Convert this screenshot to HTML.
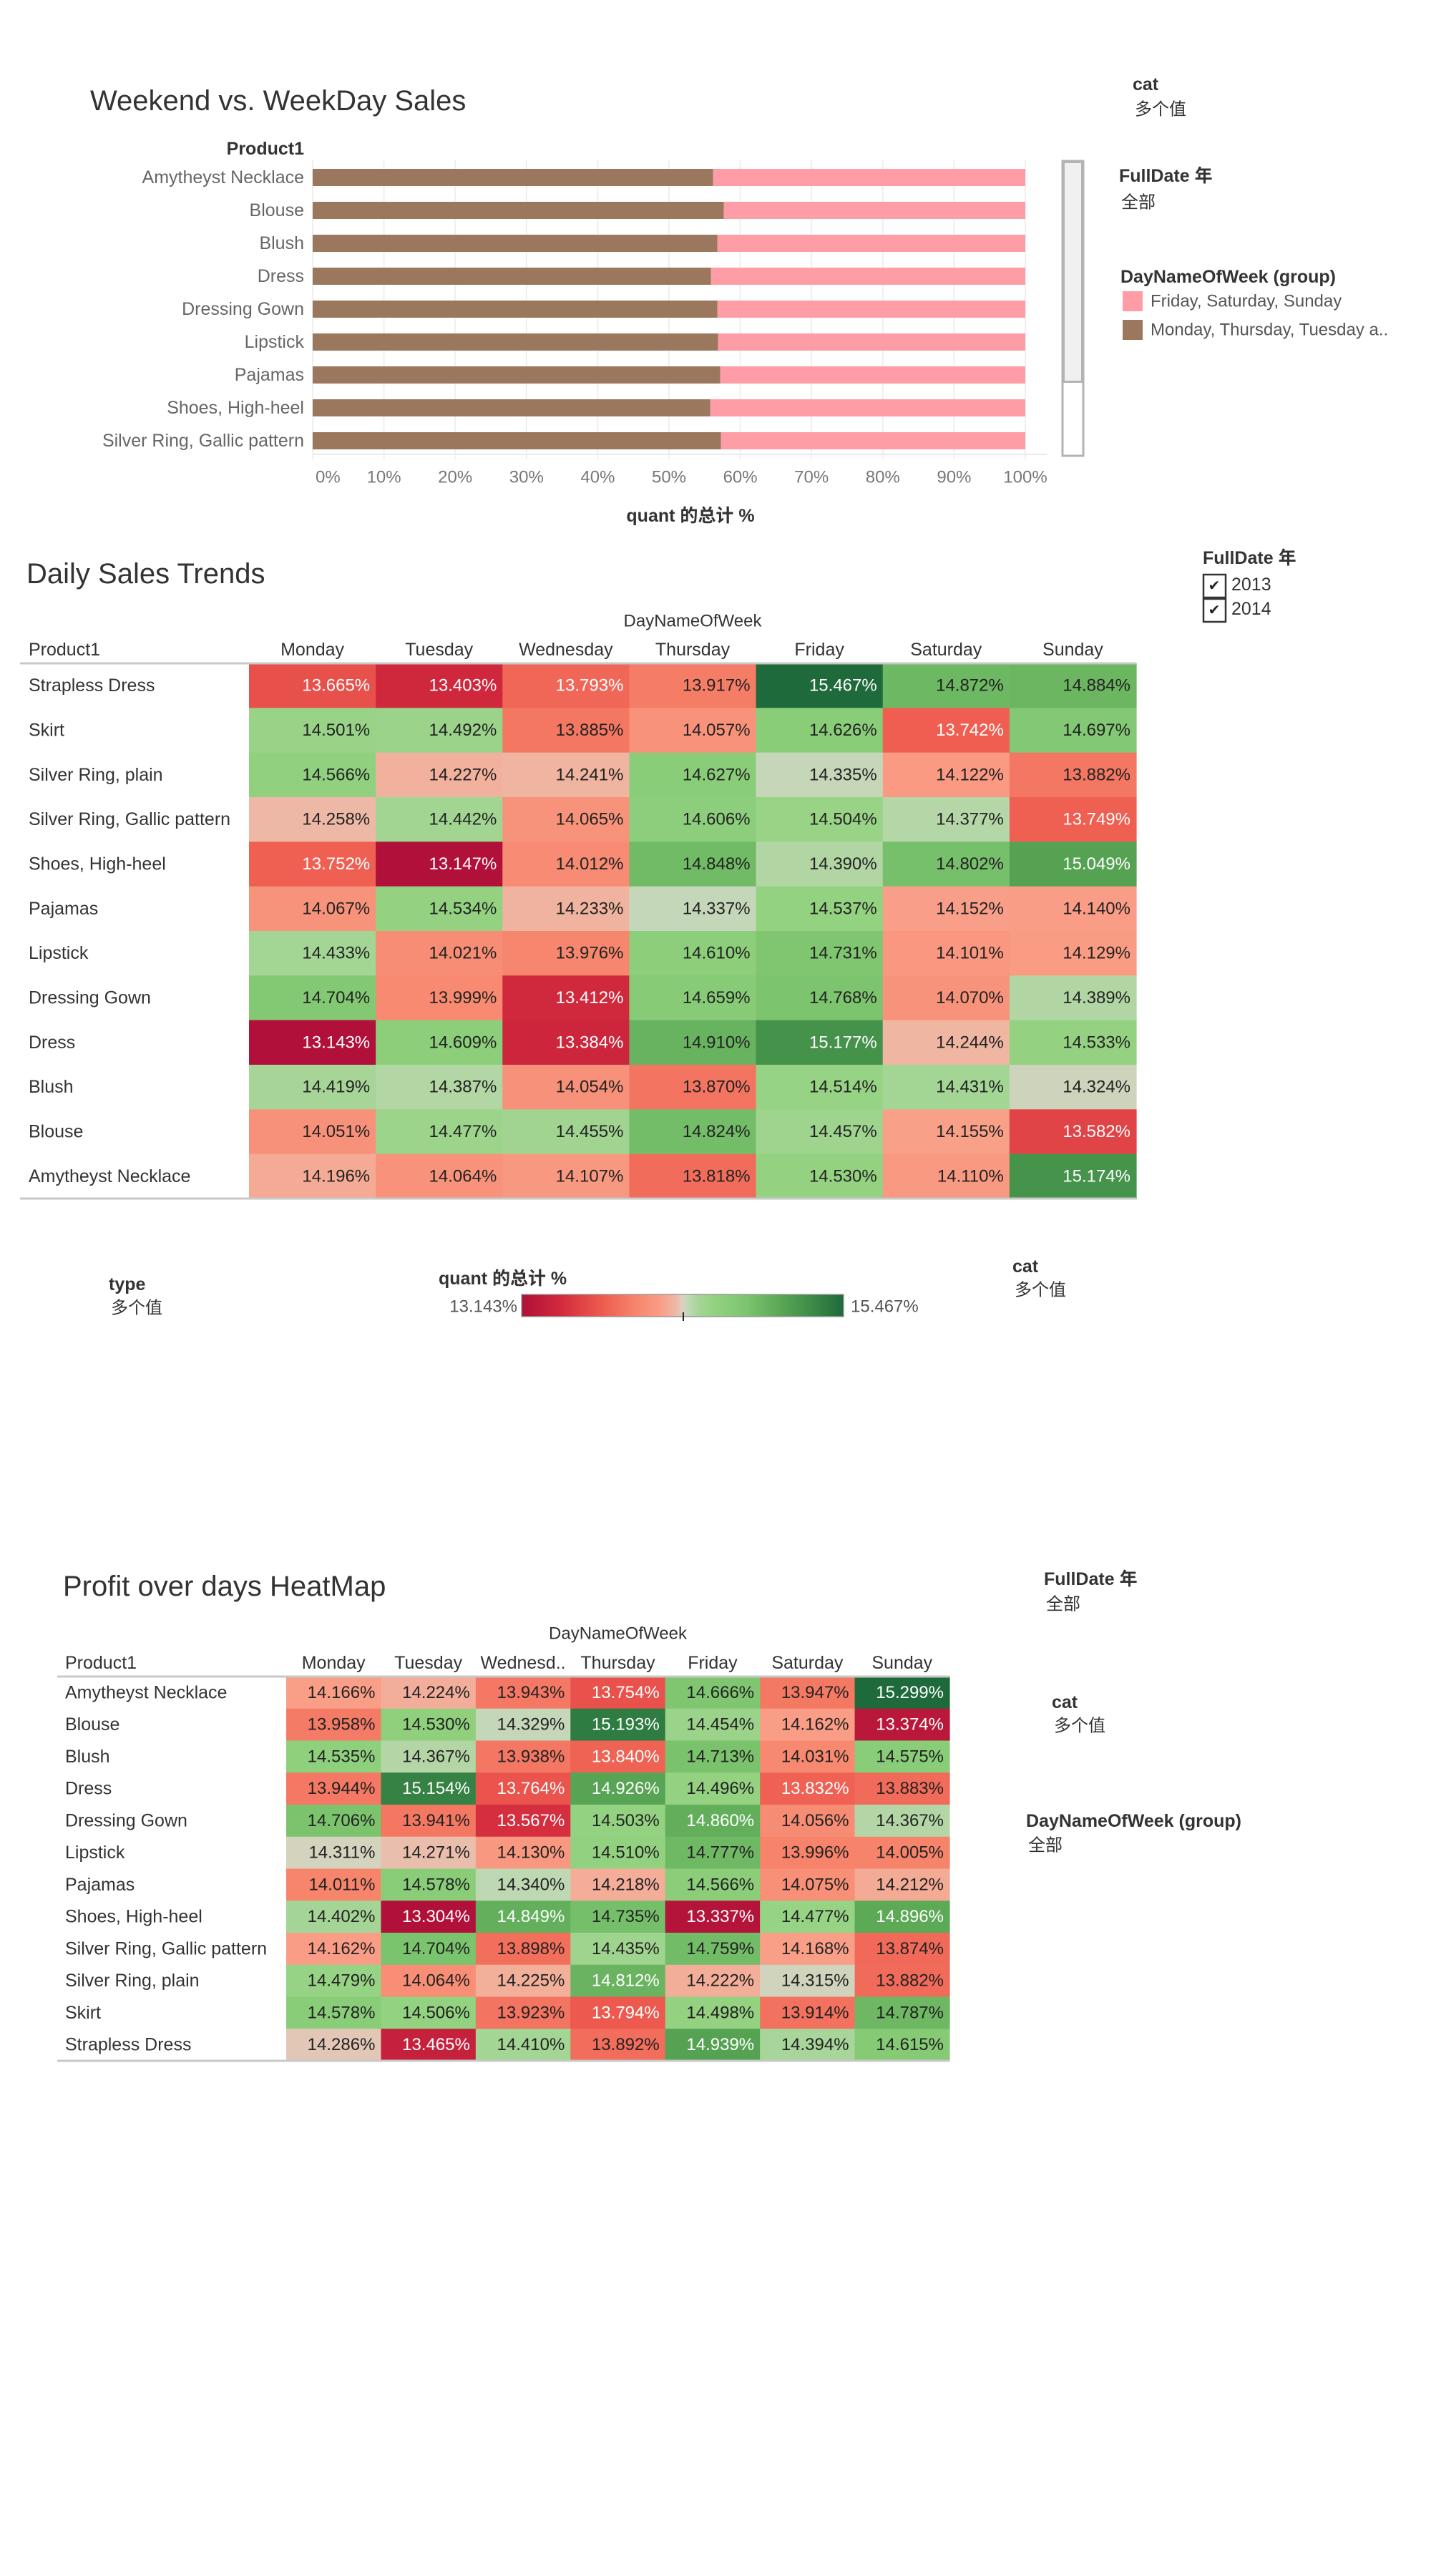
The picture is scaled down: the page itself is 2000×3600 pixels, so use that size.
<!DOCTYPE html>
<html><head><meta charset="utf-8"><title>Sales Dashboard</title>
<style>
html,body{margin:0;padding:0;background:#fff;}
svg{display:block;font-family:"Liberation Sans","Noto Sans CJK SC",sans-serif;}
</style></head>
<body>
<svg id="dash" xmlns="http://www.w3.org/2000/svg" width="2000" height="3600" viewBox="0 0 2000 3600">
<defs>
<linearGradient id="divgrad" x1="0" x2="1" y1="0" y2="0"></linearGradient>
</defs>
</svg>
<script>
// ---------- Data: Weekend vs WeekDay ----------
const barProducts = ["Amytheyst Necklace","Blouse","Blush","Dress","Dressing Gown","Lipstick","Pajamas","Shoes, High-heel","Silver Ring, Gallic pattern"];
const weekdayShare = [56.2,57.7,56.8,55.9,56.8,56.9,57.2,55.8,57.3];
const axisTicks = [0,10,20,30,40,50,60,70,80,90,100];

// ---------- Data: Daily Sales Trends ----------
const days = ["Monday","Tuesday","Wednesday","Thursday","Friday","Saturday","Sunday"];
const salesProducts = ["Strapless Dress","Skirt","Silver Ring, plain","Silver Ring, Gallic pattern","Shoes, High-heel","Pajamas","Lipstick","Dressing Gown","Dress","Blush","Blouse","Amytheyst Necklace"];
const salesValues = [
 [13.665,13.403,13.793,13.917,15.467,14.872,14.884],
 [14.501,14.492,13.885,14.057,14.626,13.742,14.697],
 [14.566,14.227,14.241,14.627,14.335,14.122,13.882],
 [14.258,14.442,14.065,14.606,14.504,14.377,13.749],
 [13.752,13.147,14.012,14.848,14.390,14.802,15.049],
 [14.067,14.534,14.233,14.337,14.537,14.152,14.140],
 [14.433,14.021,13.976,14.610,14.731,14.101,14.129],
 [14.704,13.999,13.412,14.659,14.768,14.070,14.389],
 [13.143,14.609,13.384,14.910,15.177,14.244,14.533],
 [14.419,14.387,14.054,13.870,14.514,14.431,14.324],
 [14.051,14.477,14.455,14.824,14.457,14.155,13.582],
 [14.196,14.064,14.107,13.818,14.530,14.110,15.174]
];

// ---------- Data: Profit HeatMap ----------
const profitDays = ["Monday","Tuesday","Wednesd..","Thursday","Friday","Saturday","Sunday"];
const profitProducts = ["Amytheyst Necklace","Blouse","Blush","Dress","Dressing Gown","Lipstick","Pajamas","Shoes, High-heel","Silver Ring, Gallic pattern","Silver Ring, plain","Skirt","Strapless Dress"];
const profitValues = [
 [14.166,14.224,13.943,13.754,14.666,13.947,15.299],
 [13.958,14.530,14.329,15.193,14.454,14.162,13.374],
 [14.535,14.367,13.938,13.840,14.713,14.031,14.575],
 [13.944,15.154,13.764,14.926,14.496,13.832,13.883],
 [14.706,13.941,13.567,14.503,14.860,14.056,14.367],
 [14.311,14.271,14.130,14.510,14.777,13.996,14.005],
 [14.011,14.578,14.340,14.218,14.566,14.075,14.212],
 [14.402,13.304,14.849,14.735,13.337,14.477,14.896],
 [14.162,14.704,13.898,14.435,14.759,14.168,13.874],
 [14.479,14.064,14.225,14.812,14.222,14.315,13.882],
 [14.578,14.506,13.923,13.794,14.498,13.914,14.787],
 [14.286,13.465,14.410,13.892,14.939,14.394,14.615]
];

const NS = "http://www.w3.org/2000/svg";
const svg = document.getElementById("dash");
function mk(tag, attrs, parent){
  const e = document.createElementNS(NS, tag);
  for (const k in attrs) e.setAttribute(k, attrs[k]);
  (parent||svg).appendChild(e);
  return e;
}
function txt(x,y,s,size,fill,anchor,weight,parent){
  const t = mk("text",{x:x,y:y,"font-size":size,fill:fill||"#333","text-anchor":anchor||"start","dominant-baseline":"central","font-weight":weight||"normal"},parent);
  t.textContent = s;
  return t;
}

// colour scale (diverging)
const stops = [
 [0,"#b01039"],[0.12,"#d12a3d"],[0.25,"#ee5b4f"],[0.35,"#f6846b"],[0.43,"#fa9d86"],
 [0.48,"#edb9a6"],[0.5,"#dcd0c0"],[0.515,"#c3d8b8"],[0.55,"#a5d596"],[0.6,"#93d280"],
 [0.7,"#7cc46e"],[0.8,"#5ba856"],[0.9,"#3e8b48"],[1,"#1f6a3b"]
];
function hex2rgb(h){return [parseInt(h.substr(1,2),16),parseInt(h.substr(3,2),16),parseInt(h.substr(5,2),16)];}
function colorAt(t){
  t=Math.max(0,Math.min(1,t));
  for(let i=1;i<stops.length;i++){
    if(t<=stops[i][0]){
      const a=stops[i-1],b=stops[i];const f=(t-a[0])/(b[0]-a[0]);
      const ca=hex2rgb(a[1]),cb=hex2rgb(b[1]);
      return "rgb("+ca.map((v,j)=>Math.round(v+(cb[j]-v)*f)).join(",")+")";
    }
  }
  return stops[stops.length-1][1];
}
const grad = document.getElementById("divgrad");
stops.forEach(s=>{mk("stop",{offset:s[0],"stop-color":s[1]},grad);});

// ================= Section 1: bar chart =================
const bx0=437, bx1=1433, by0=236, bstep=46, bh=24;
function xScale(p){return bx0+(bx1-bx0)*p/100;}
const t1=txt(126,141,"Weekend vs. WeekDay Sales",40,"#333");


const ph=txt(425,208,"Product1",25,"#333","end","bold");


axisTicks.forEach((v,i)=>{
  const g=mk("line",{x1:xScale(v),x2:xScale(v),y1:224,y2:642,stroke:"#efefef","stroke-width":2});
  
  
  const tl=txt(i===0?xScale(v)+4:xScale(v),667,v+"%",24,"#777",i===0?"start":"middle");
  
  
});
const ax=mk("line",{x1:bx0,x2:bx1+30,y1:635,y2:635,stroke:"#eaeaea","stroke-width":2});


barProducts.forEach((p,i)=>{
  const y=by0+i*bstep;
  const lab=txt(425,y+bh/2,p,25,"#666","end");
  
  
  const b1=mk("rect",{x:xScale(0),y:y,width:xScale(weekdayShare[i])-xScale(0),height:bh,fill:"#9b775e"});
  
  
  const b2=mk("rect",{x:xScale(weekdayShare[i]),y:y,width:xScale(100)-xScale(weekdayShare[i]),height:bh,fill:"#ff9da7"});
  
  
});
const xt=txt(965,721,"quant 的总计 %",25,"#333","middle","bold");


const sb=mk("rect",{x:1485,y:225,width:29,height:412,fill:"#fff",stroke:"#b3b3b3","stroke-width":3});


const th=mk("rect",{x:1486.5,y:226.5,width:26,height:307,fill:"#f0f0f0",stroke:"#b3b3b3","stroke-width":3});


// right legends section 1
let e;
e=txt(1583,118,"cat",25,"#333","start","bold");


e=txt(1586,153,"多个值",24,"#333");


e=txt(1564,246,"FullDate 年",25,"#333","start","bold");


e=txt(1567,283,"全部",24,"#333");


e=txt(1566,387,"DayNameOfWeek (group)",25,"#333","start","bold");


e=mk("rect",{x:1569,y:407,width:28,height:28,fill:"#ff9da7"});


e=txt(1608,421,"Friday, Saturday, Sunday",24,"#555");


e=mk("rect",{x:1569,y:447,width:28,height:28,fill:"#9b775e"});


e=txt(1608,461,"Monday, Thursday, Tuesday a..",24,"#555");



// ================= heatmap builder =================
function heatmap(cfg){
  const vals=cfg.values, flat=vals.flat();
  const mn=Math.min(...flat), mx=Math.max(...flat);
  const n=cfg.rows.length;
  const cw=(cfg.x1-cfg.x0)/cfg.cols.length;
  const rh=(cfg.y1-cfg.y0)/n;
  let h=txt(cfg.titleX,cfg.titleY,cfg.title,40,"#333");
  
  
  h=txt((cfg.x0+cfg.x1)/2,cfg.groupY,"DayNameOfWeek",24,"#333","middle");
  
  
  h=txt(cfg.labelX,cfg.headY,"Product1",25,"#333");
  
  
  cfg.cols.forEach((d,j)=>{
    const c=txt(cfg.x0+cw*(j+0.5),cfg.headY,d,25,"#333","middle");
    
    
  });
  cfg.rows.forEach((p,i)=>{
    const y=cfg.y0+i*rh;
    const l=txt(cfg.labelX,y+rh/2,p,25,"#333");
    
    
    vals[i].forEach((v,j)=>{
      const t=(v-mn)/(mx-mn);
      const r=mk("rect",{x:cfg.x0+j*cw,y:y,width:cw+0.6,height:rh+0.6,fill:colorAt(t)});
      
      
      const white = t<0.285 || t>cfg.greenWhite;
      const tv=txt(cfg.x0+(j+1)*cw-8,y+rh/2,v.toFixed(3)+"%",24,white?"#fff":"#222","end");
      
      
    });
  });
  h=mk("line",{x1:cfg.lineX,x2:cfg.x1,y1:cfg.y0,y2:cfg.y0,stroke:"#c8c8c8","stroke-width":3});
  
  
  h=mk("line",{x1:cfg.lineX,x2:cfg.x1,y1:cfg.y1,y2:cfg.y1,stroke:"#c8c8c8","stroke-width":3});
  
  
  return {mn:mn,mx:mx};
}

// ================= Section 2 =================
const r2=heatmap({id:"daily-sales",title:"Daily Sales Trends",titleX:37,titleY:802,groupY:868,headY:908,
  labelX:40,lineX:28,x0:348,x1:1588,y0:927,y1:1675,cols:days,rows:salesProducts,values:salesValues,greenWhite:0.775});
e=txt(1681,780,"FullDate 年",25,"#333","start","bold");


[["2013",802],["2014",836]].forEach((yr,i)=>{
  const b=mk("rect",{x:1682,y:yr[1]+1,width:31,height:32,fill:"#fff",stroke:"#333","stroke-width":2.5});
  
  
  const c=txt(1697,yr[1]+17,"✔",20,"#222","middle");
  
  
  const l=txt(1721,yr[1]+15,yr[0],25,"#333");
  
  
});
e=txt(152,1795,"type",25,"#333","start","bold");


e=txt(155,1828,"多个值",24,"#333");


e=txt(613,1787,"quant 的总计 %",25,"#333","start","bold");


e=mk("rect",{x:729,y:1809,width:450,height:31,fill:"url(#divgrad)",stroke:"#999","stroke-width":1.5});


e=mk("line",{x1:955,x2:955,y1:1834,y2:1846,stroke:"#222","stroke-width":2});


e=txt(723,1826,r2.mn.toFixed(3)+"%",24,"#555","end");


e=txt(1189,1826,r2.mx.toFixed(3)+"%",24,"#555");


e=txt(1415,1770,"cat",25,"#333","start","bold");


e=txt(1418,1803,"多个值",24,"#333");



// ================= Section 3 =================
heatmap({id:"profit-heatmap",title:"Profit over days HeatMap",titleX:88,titleY:2217,groupY:2283,headY:2324,
  labelX:91,lineX:80,x0:400,x1:1327,y0:2343,y1:2880,cols:profitDays,rows:profitProducts,values:profitValues,greenWhite:0.75});
e=txt(1459,2207,"FullDate 年",25,"#333","start","bold");


e=txt(1462,2242,"全部",24,"#333");


e=txt(1470,2379,"cat",25,"#333","start","bold");


e=txt(1473,2412,"多个值",24,"#333");


e=txt(1434,2545,"DayNameOfWeek (group)",25,"#333","start","bold");


e=txt(1437,2579,"全部",24,"#333");


</script>
</body></html>
